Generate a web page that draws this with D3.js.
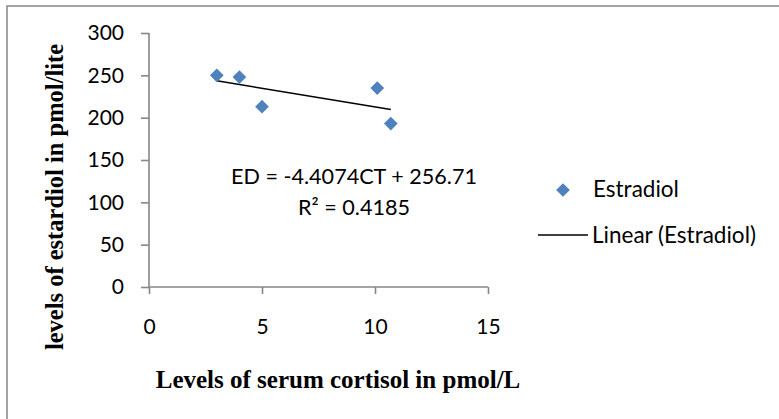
<!DOCTYPE html>
<html>
<head>
<meta charset="utf-8">
<script src="https://cdn.jsdelivr.net/npm/d3@7/dist/d3.min.js"></script>
<style>
  html, body { margin: 0; padding: 0; background: #fff; }
  svg { display: block; }
</style>
</head>
<body>
<svg id="chart" width="779" height="419"></svg>
<script>
// ---- data ----
const cortisol = [3, 4, 5, 10.1, 10.7];
const estradiol = [250, 248, 213, 235, 193];
const xTicks = [0, 5, 10, 15];
const yTicks = [0, 50, 100, 150, 200, 250, 300];
const seriesName = "Estradiol";
const trendName = "Linear (Estradiol)";
const equationText = "ED = -4.4074CT + 256.71";
const r2Value = "0.4185";
const xTitle = "Levels of serum cortisol in pmol/L";
const yTitle = "levels of estardiol in pmol/lite";

// ---- setup ----
const svg = d3.select("#chart");
const axisColor = "#868686";
const blue = "#4F81BD";
const sans = "Lato, 'Open Sans', sans-serif";
const serif = "'Liberation Serif', 'DejaVu Serif', serif";

// outer frame
svg.append("rect")
  .attr("x", 7).attr("y", 6)
  .attr("width", 800).attr("height", 440)
  .attr("fill", "none").attr("stroke", axisColor).attr("stroke-width", 1.5);

const x = d3.scaleLinear().domain([0, 15]).range([149, 488]);
const y = d3.scaleLinear().domain([0, 300]).range([287, 33]);

// y axis
const yAxis = svg.append("g")
  .attr("transform", `translate(${x(0)},0)`)
  .call(d3.axisLeft(y).tickValues(yTicks).tickSize(8).tickPadding(17).tickSizeOuter(0));
// x axis
const xAxis = svg.append("g")
  .attr("transform", `translate(0,${y(0)})`)
  .call(d3.axisBottom(x).tickValues(xTicks).tickSize(7).tickPadding(25).tickSizeOuter(0));

[yAxis, xAxis].forEach(g => {
  g.select(".domain").attr("stroke", axisColor).attr("stroke-width", 1.6);
  g.selectAll(".tick line").attr("stroke", axisColor).attr("stroke-width", 1.6);
  g.selectAll(".tick text")
    .attr("fill", "#000")
    .style("font-family", sans)
    .style("font-size", "21px");
});
yAxis.select(".domain").attr("d", `M0,${y(300)}V${y(0)}`);
xAxis.select(".domain").attr("d", `M${x(0)},0H${x(15)}`);

// trendline via least squares
const n = cortisol.length;
const mx = d3.mean(cortisol), my = d3.mean(estradiol);
let sxy = 0, sxx = 0;
for (let i = 0; i < n; i++) {
  sxy += (cortisol[i] - mx) * (estradiol[i] - my);
  sxx += (cortisol[i] - mx) ** 2;
}
const slope = sxy / sxx, intercept = my - slope * mx;
const x0 = d3.min(cortisol), x1 = d3.max(cortisol);
svg.append("line")
  .attr("x1", x(x0)).attr("y1", y(intercept + slope * x0))
  .attr("x2", x(x1)).attr("y2", y(intercept + slope * x1))
  .attr("stroke", "#000").attr("stroke-width", 1.5);

// markers
const diamond = d3.symbol().type(d3.symbolDiamond2).size(120);
svg.append("g").selectAll("path")
  .data(cortisol.map((c, i) => [c, estradiol[i]]))
  .join("path")
  .attr("d", diamond)
  .attr("transform", d => `translate(${x(d[0])},${y(d[1])})`)
  .attr("fill", blue);

// equation
svg.append("text")
  .attr("x", 354).attr("y", 184)
  .attr("text-anchor", "middle")
  .style("font-family", sans).style("font-size", "21.6px")
  .text(equationText);
svg.append("text")
  .attr("x", 354).attr("y", 215)
  .attr("text-anchor", "middle")
  .style("font-family", sans).style("font-size", "21.6px")
  .text("R² = " + r2Value);

// legend
svg.append("path")
  .attr("d", diamond)
  .attr("transform", "translate(563,190)")
  .attr("fill", blue);
svg.append("text")
  .attr("x", 593).attr("y", 197)
  .style("font-family", sans).style("font-size", "22.5px")
  .text(seriesName);
svg.append("line")
  .attr("x1", 538).attr("x2", 588).attr("y1", 235).attr("y2", 235)
  .attr("stroke", "#000").attr("stroke-width", 1.5);
svg.append("text")
  .attr("x", 592).attr("y", 243)
  .style("font-family", sans).style("font-size", "22.5px")
  .text(trendName);

// axis titles
svg.append("text")
  .attr("x", 338).attr("y", 388)
  .attr("text-anchor", "middle")
  .style("font-family", serif).style("font-weight", "bold").style("font-size", "25px")
  .text(xTitle);
svg.append("text")
  .attr("transform", "translate(63,197) rotate(-90)")
  .attr("text-anchor", "middle")
  .style("font-family", serif).style("font-weight", "bold").style("font-size", "24.5px")
  .text(yTitle);
</script>
</body>
</html>
